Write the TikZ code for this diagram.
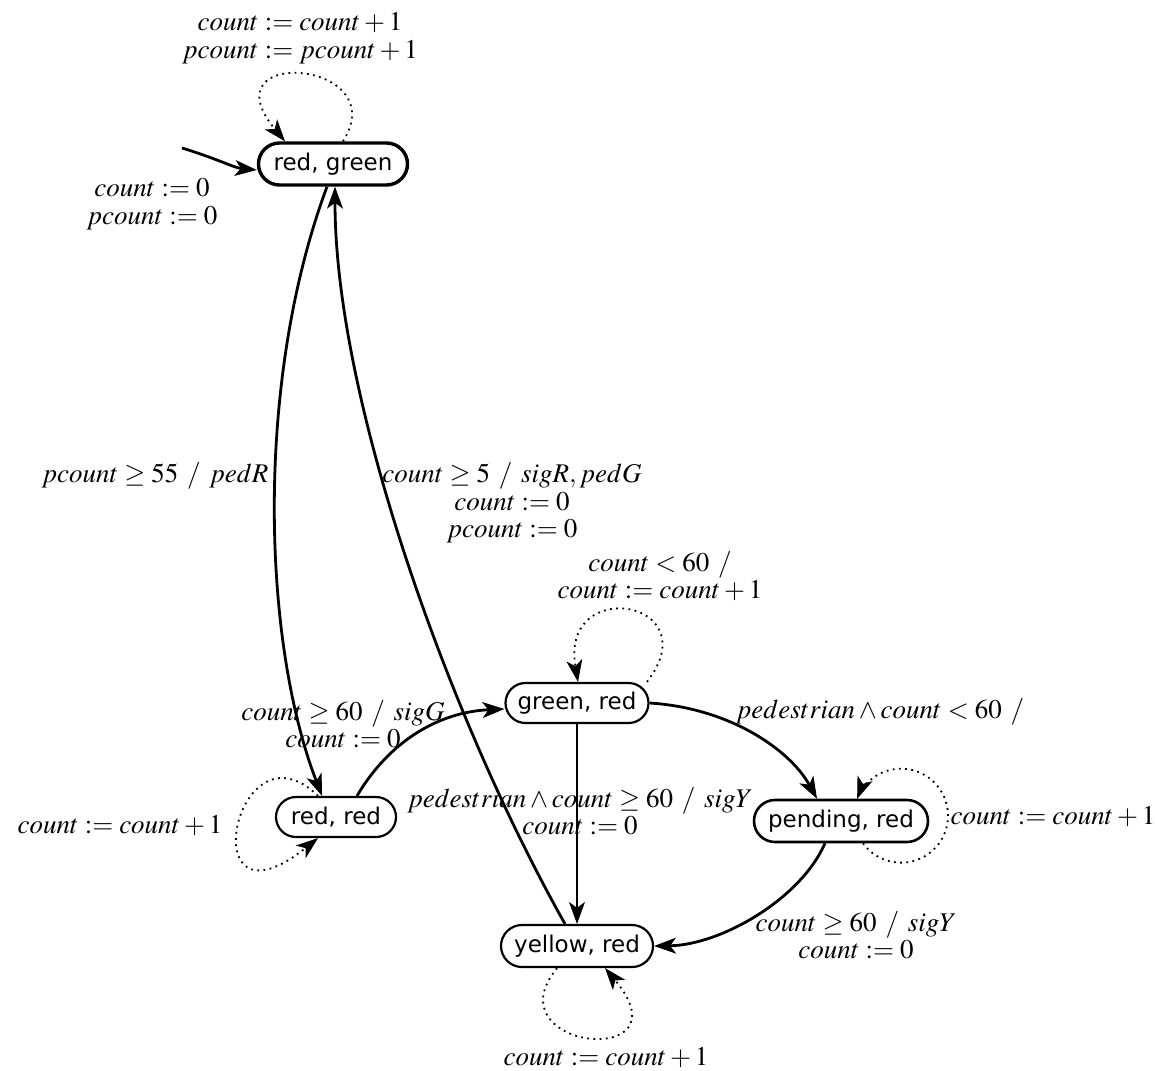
\documentclass[tikz,border=0pt]{standalone}
\usepackage{mathptmx}
\usepackage[no-math]{fontspec}
\newfontfamily\nodefont{DejaVu Sans}
\usetikzlibrary{arrows.meta,shapes.misc}
\begin{document}
\begin{tikzpicture}[x=0.5pt,y=-0.5pt,
  state/.style={rounded rectangle, draw, line width=1.1pt, inner xsep=2pt, inner ysep=0pt,
    font=\nodefont\fontsize{11.5}{13}\selectfont},
  lbl/.style={font=\fontsize{13.5}{13.8}\selectfont, align=center, inner sep=0pt},
  tip/.style={-{Stealth[length=11pt,width=8pt,inset=3pt,line width=0.5pt,fill=black]}},
  trans/.style={tip, line width=1.4pt},
  selfloop/.style={tip, line width=0.9pt, dash pattern=on 0.9pt off 2.2pt}]
\useasboundingbox (0,0) rectangle (1155,1070);

% states
\node[state, line width=1.7pt, minimum width=78.5pt, minimum height=21pt] (rg) at (333,164) {red, green};
\node[state, minimum width=75.5pt, minimum height=20pt] (gr) at (577,703) {green, red};
\node[state, minimum width=64pt, minimum height=20pt] (rr) at (336,817) {red, red};
\node[state, line width=1.3pt, minimum width=91pt, minimum height=21pt] (pr) at (841,821) {pending, red};
\node[state, minimum width=80pt, minimum height=21pt] (yr) at (577,946) {yellow, red};

% initial transition
\coordinate (init) at (182,148);
\draw[trans] (init) .. controls (215,158) and (235,168) .. ([yshift=-3pt]rg.west);
\node[lbl] (linit) at (152,204) {$count := 0$\\$pcount := 0$};

% self loop red, green
\draw[selfloop] ([xshift=5pt]rg.north) .. controls (395,60) and (205,45) .. ([xshift=-24pt]rg.north);
\node[lbl] (lrg) at (300,38) {$count := count + 1$\\$pcount := pcount + 1$};

% red, green -> red, red
\draw[trans] ([xshift=-3pt]rg.south) .. controls (255,380) and (262,640) .. ([xshift=-7pt]rr.north);
\node[lbl] (lrgrr) at (155,476) {$pcount \geq 55\ /\ pedR$};

% yellow, red -> red, green
\draw[trans] ([xshift=-6pt]yr.north) .. controls (450,720) and (335,400) .. ([xshift=1pt]rg.south);
\node[lbl] (lyrrg) at (512,503) {$count \geq 5\ /\ sigR, pedG$\\$count := 0$\\$pcount := 0$};

% self loop red, red
\draw[selfloop] ([xshift=-9pt]rr.north) .. controls (235,715) and (190,940) .. ([xshift=-9pt]rr.south);
\node[lbl] (lrr) at (120,826) {$count := count + 1$};

% red, red -> green, red
\draw[trans] ([xshift=10.5pt]rr.north) .. controls (390,740) and (440,712) .. ([yshift=-3pt]gr.west);
\node[lbl] (lrrgr) at (343,724) {$count \geq 60\ /\ sigG$\\$count := 0$};

% self loop green, red
\draw[selfloop] ([xshift=35pt]gr.north) .. controls (710,600) and (560,575) .. ([xshift=0.5pt]gr.north);
\node[lbl] (lgr) at (660,576) {$count < 60\ /$\\$count := count + 1$};

% green, red -> pending, red
\draw[trans] (gr.east) .. controls (730,708) and (790,750) .. ([xshift=-12pt]pr.north);
\node[lbl] (lgrpr) at (880,712) {$pedestrian \wedge count < 60\ /$};

% green, red -> yellow, red
\draw[trans] (gr.south) -- (yr.north);
\node[lbl] (lgryr) at (580,811) {$pedestrian \wedge count \geq 60\ /\ sigY$\\$count := 0$};

% self loop pending, red
\draw[selfloop] ([xshift=11pt]pr.south) arc[start angle=216, end angle=519, radius=23.5pt];
\node[lbl] (lpr) at (1053,817) {$count := count + 1$};

% pending, red -> yellow, red
\draw[trans] ([xshift=-8pt]pr.south) .. controls (800,900) and (720,945) .. (yr.east);
\node[lbl] (lpryr) at (856,935) {$count \geq 60\ /\ sigY$\\$count := 0$};

% self loop yellow, red
\draw[selfloop] ([xshift=-10pt]yr.south) .. controls (490,1050) and (690,1070) .. ([xshift=14pt]yr.south);
\node[lbl] (lyr) at (606,1058) {$count := count + 1$};
\end{tikzpicture}
\end{document}
